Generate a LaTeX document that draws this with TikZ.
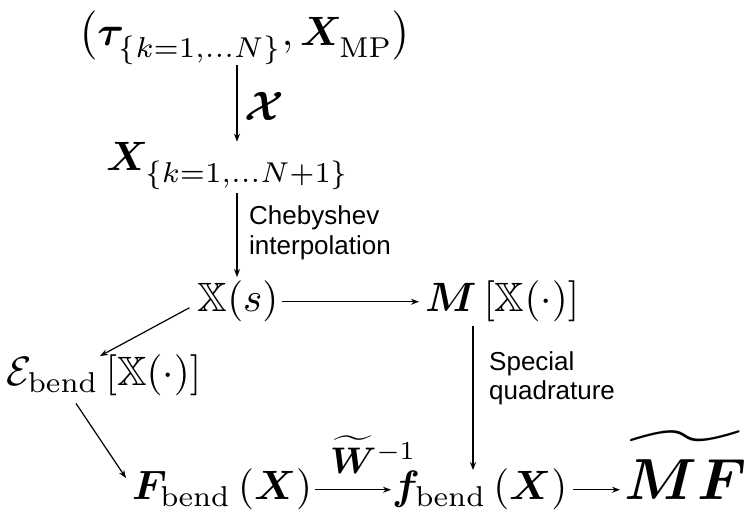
\RequirePackage{fix-cm}
\documentclass[tikz,border=0pt]{standalone}
\usepackage{amsmath,amssymb,bm,graphicx}
\usepackage{fontspec}
\newfontfamily\labelsans{Liberation Sans}
\usetikzlibrary{arrows.meta,calc}
\newcommand\mth[1]{\scalebox{4.1}{$#1$}}
\newcommand\lsub[1]{\lower1.2pt\hbox{$\scriptstyle #1$}}
\begin{document}
\begin{tikzpicture}[x=1pt,y=-1pt,
  math/.style={inner sep=0pt, font=\fontsize{10}{12}\selectfont},
  lbl/.style={inner sep=0pt, font=\labelsans\fontsize{26}{30}\selectfont, align=left},
  arr/.style={-{Stealth[length=8pt,width=6pt]}, line width=1.2pt}]
\useasboundingbox (0,0) rectangle (748,513);
\node[math, anchor=base] (top) at (245,46) {\mth{\bigl(\bm{\tau}_{\lsub{\{k=1,\ldots N\}}},\bm{X}_{\lsub{\mathrm{MP}}}\bigr)}};
\node[math, anchor=base west] (xk) at (106,171) {\mth{\bm{X}_{\lsub{\{k=1,\ldots N+1\}}}}};
\node[math, anchor=base] (xs) at (238,312) {\mth{\mathbb{X}(s)}};
\node[math, anchor=base west] (m) at (425,312) {\mth{\bm{M}\left[\mathbb{X}(\cdot)\right]}};
\node[math, anchor=base west] (e) at (6,386) {\mth{\mathcal{E}_{\mathrm{bend}}\left[\mathbb{X}(\cdot)\right]}};
\node[math, anchor=base west] (Fb) at (132,500) {\mth{\bm{F}_{\mathrm{bend}}\left(\bm{X}\right)}};
\node[math, anchor=base west] (fb) at (392,500) {\mth{\bm{f}_{\mathrm{bend}}\left(\bm{X}\right)}};
\node[math, anchor=base west] (mf) at (624,500) {\scalebox{5.8}{$\widetilde{\bm{MF}\rule{0pt}{8.3pt}}$}};
\coordinate (c1) at (237,0);
\coordinate (c2) at (473,0);
\draw[arr] ($(top.south -| c1)+(0,1)$) -- ($(xk.north -| c1)+(0,-1)$);
\node[math, anchor=west] (lx) at (244,106) {\mth{\bm{\mathcal{X}}}};
\draw[arr] ($(xk.south -| c1)+(0,4)$) -- ($(xs.north -| c1)+(0,-4)$);
\node[lbl, anchor=base west] (cheb) at (249,255) {Chebyshev\\interpolation};
\draw[arr, shorten <=3pt, shorten >=6pt] (xs.east) -- (m.west |- xs.east);
\draw[arr] ($(xs.west)+(-8,6)$) -- ($(e.north west)+(94,1)$);
\draw[arr] ($(e.south west)+(70,7)$) -- ($(Fb.north west)+(-6,9)$);
\draw[arr, shorten <=3pt, shorten >=1pt] (Fb.east) -- (fb.west |- Fb.east);
\node[math, anchor=base west] (wl) at (330,473) {\scalebox{3.7}{$\widetilde{\bm{W}}^{-1}$}};
\draw[arr, shorten <=6pt, shorten >=4pt] (fb.east) -- (mf.west |- fb.east);
\draw[arr] ($(m.south -| c2)+(0,4)$) -- ($(fb.north -| c2)+(0,1)$);
\node[lbl, anchor=base west] (sq) at (489,400) {Special\\quadrature};
\end{tikzpicture}
\end{document}
